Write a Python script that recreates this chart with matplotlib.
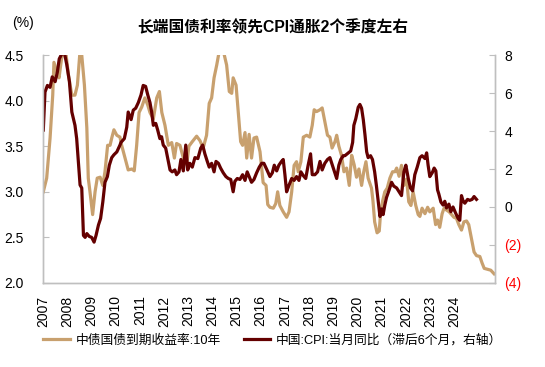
import matplotlib
matplotlib.use('Agg')
import matplotlib.pyplot as plt
from matplotlib.ticker import FuncFormatter

plt.rcParams['font.family'] = ['Liberation Sans', 'Noto Sans CJK SC', 'DejaVu Sans']

# 10Y China government bond yield (%), left axis; x in decimal years
yield_t = [2007.01, 2007.15, 2007.29, 2007.40, 2007.45, 2007.57, 2007.66, 2007.77, 2007.91, 2008.05,
           2008.19, 2008.32, 2008.42, 2008.53, 2008.60, 2008.71, 2008.81, 2008.87, 2008.94, 2009.05,
           2009.15, 2009.24, 2009.36, 2009.47, 2009.56, 2009.67, 2009.77, 2009.84, 2009.93, 2010.05,
           2010.18, 2010.25, 2010.39, 2010.52, 2010.67, 2010.77, 2010.87, 2010.97, 2011.08, 2011.21,
           2011.33, 2011.42, 2011.56, 2011.70, 2011.81, 2011.91, 2012.04, 2012.18, 2012.32, 2012.43,
           2012.52, 2012.66, 2012.80, 2012.94, 2013.03, 2013.17, 2013.35, 2013.49, 2013.62, 2013.76,
           2013.87, 2013.97, 2014.07, 2014.18, 2014.29, 2014.45, 2014.59, 2014.70, 2014.80, 2014.86,
           2014.98, 2015.07, 2015.17, 2015.25, 2015.35, 2015.42, 2015.52, 2015.62, 2015.72, 2015.83,
           2015.97, 2016.10, 2016.22, 2016.29, 2016.38, 2016.52, 2016.62, 2016.70, 2016.79, 2016.93,
           2017.07, 2017.17, 2017.28, 2017.38, 2017.48, 2017.55, 2017.66, 2017.76, 2017.90, 2018.03,
           2018.13, 2018.21, 2018.31, 2018.45, 2018.54, 2018.65, 2018.76, 2018.86, 2018.95, 2019.07,
           2019.14, 2019.23, 2019.34, 2019.44, 2019.55, 2019.66, 2019.76, 2019.86, 2019.96, 2020.06,
           2020.17, 2020.26, 2020.35, 2020.44, 2020.58, 2020.64, 2020.71, 2020.81, 2020.90, 2020.95,
           2021.04, 2021.13, 2021.23, 2021.34, 2021.45, 2021.55, 2021.62, 2021.72, 2021.82, 2021.92,
           2022.03, 2022.12, 2022.21, 2022.30, 2022.41, 2022.51, 2022.58, 2022.67, 2022.79, 2022.90,
           2022.99, 2023.13, 2023.23, 2023.31, 2023.40, 2023.50, 2023.58, 2023.68, 2023.79, 2023.89,
           2023.99, 2024.09, 2024.19, 2024.30, 2024.40, 2024.51, 2024.60, 2024.71, 2024.82, 2024.92,
           2025.06, 2025.15, 2025.24, 2025.38, 2025.51, 2025.65]
yield_v = [3.00, 3.15, 3.59, 4.06, 4.42, 4.31, 4.25, 4.47, 4.60, 4.28,
           4.06, 4.06, 4.17, 4.55, 4.50, 4.17, 3.70, 3.15, 3.00, 2.75,
           3.00, 3.15, 3.16, 3.07, 3.22, 3.51, 3.51, 3.59, 3.68, 3.62,
           3.60, 3.51, 3.37, 3.24, 3.25, 3.23, 3.51, 3.87, 3.93, 4.03,
           3.95, 3.87, 3.80, 4.03, 4.10, 3.87, 3.73, 3.51, 3.54, 3.37,
           3.53, 3.51, 3.37, 3.30, 3.50, 3.55, 3.61, 3.56, 3.48, 3.62,
           3.97, 4.03, 4.25, 4.39, 4.55, 4.55, 4.39, 4.10, 4.08, 4.25,
           4.17, 3.87, 3.55, 3.51, 3.65, 3.37, 3.63, 3.37, 3.59, 3.60,
           3.44, 3.10, 3.07, 2.86, 2.83, 2.82, 2.87, 3.00, 2.85, 2.78,
           2.72, 2.78, 3.00, 3.29, 3.33, 3.22, 3.33, 3.60, 3.62, 3.60,
           3.73, 3.90, 3.88, 3.90, 3.92, 3.77, 3.62, 3.60, 3.48, 3.55,
           3.62, 3.50, 3.40, 3.22, 3.26, 3.07, 3.40, 3.30, 3.16, 3.25,
           3.07, 3.22, 3.33, 3.15, 3.04, 2.90, 2.67, 2.55, 2.57, 2.75,
           2.90, 3.00, 3.04, 3.15, 3.22, 3.22, 3.26, 3.17, 3.29, 3.07,
           3.14, 2.89, 2.85, 3.00, 2.85, 2.75, 2.73, 2.82, 2.76, 2.83,
           2.78, 2.82, 2.64, 2.69, 2.61, 2.76, 2.82, 2.80, 2.78, 2.75,
           2.72, 2.71, 2.64, 2.58, 2.67, 2.68, 2.64, 2.49, 2.34, 2.30,
           2.29, 2.22, 2.16, 2.15, 2.14, 2.10]

# China CPI YoY (%), lagged 6 months, right axis
cpi_t = [2007.01, 2007.08, 2007.18, 2007.29, 2007.38, 2007.50, 2007.59, 2007.67, 2007.79, 2007.87,
         2007.98, 2008.09, 2008.19, 2008.32, 2008.39, 2008.46, 2008.53, 2008.60, 2008.67, 2008.74,
         2008.81, 2008.91, 2009.01, 2009.11, 2009.19, 2009.29, 2009.38, 2009.47, 2009.56, 2009.66,
         2009.74, 2009.84, 2009.93, 2010.05, 2010.18, 2010.22, 2010.36, 2010.46, 2010.52, 2010.64,
         2010.73, 2010.83, 2010.94, 2011.05, 2011.14, 2011.24, 2011.33, 2011.42, 2011.49, 2011.56,
         2011.66, 2011.74, 2011.83, 2011.90, 2011.97, 2012.07, 2012.15, 2012.25, 2012.34, 2012.45,
         2012.52, 2012.62, 2012.70, 2012.80, 2012.90, 2012.98, 2013.07, 2013.17, 2013.28, 2013.40,
         2013.52, 2013.60, 2013.69, 2013.79, 2013.87, 2013.97, 2014.07, 2014.15, 2014.25, 2014.34,
         2014.45, 2014.56, 2014.66, 2014.76, 2014.86, 2014.93, 2015.03, 2015.14, 2015.25, 2015.35,
         2015.44, 2015.52, 2015.62, 2015.72, 2015.83, 2015.94, 2016.04, 2016.13, 2016.24, 2016.38,
         2016.48, 2016.56, 2016.66, 2016.75, 2016.86, 2016.93, 2017.00, 2017.07, 2017.17, 2017.28,
         2017.38, 2017.48, 2017.58, 2017.66, 2017.76, 2017.86, 2017.96, 2018.06, 2018.13, 2018.24,
         2018.35, 2018.45, 2018.54, 2018.65, 2018.76, 2018.86, 2018.95, 2019.04, 2019.14, 2019.23,
         2019.31, 2019.41, 2019.48, 2019.62, 2019.72, 2019.80, 2019.85, 2019.93, 2020.03, 2020.10,
         2020.17, 2020.24, 2020.31, 2020.38, 2020.44, 2020.54, 2020.62, 2020.71, 2020.78, 2020.86,
         2020.93, 2021.00, 2021.06, 2021.13, 2021.20, 2021.31, 2021.41, 2021.50, 2021.62, 2021.72,
         2021.82, 2021.92, 2022.00, 2022.10, 2022.19, 2022.28, 2022.37, 2022.47, 2022.58, 2022.67,
         2022.79, 2022.86, 2022.92, 2022.99, 2023.09, 2023.17, 2023.24, 2023.31, 2023.36, 2023.45,
         2023.54, 2023.61, 2023.68, 2023.78, 2023.86, 2023.95, 2024.05, 2024.16, 2024.23, 2024.30,
         2024.37, 2024.44, 2024.55, 2024.64, 2024.74, 2024.82, 2024.92]
cpi_v = [4.05, 6.05, 6.40, 6.30, 6.85, 6.60, 7.10, 7.80, 8.10, 8.20,
         7.50, 6.60, 5.00, 4.30, 3.60, 2.40, 1.16, 1.00, -1.50, -1.60,
         -1.40, -1.55, -1.60, -1.85, -1.50, -0.95, -0.60, 0.26, 1.30, 1.60,
         2.20, 2.60, 2.75, 2.90, 3.26, 3.40, 3.60, 4.20, 5.00, 4.60,
         5.10, 5.20, 5.50, 5.90, 6.40, 6.35, 5.90, 5.50, 5.00, 4.30,
         4.40, 4.05, 3.60, 3.70, 3.26, 3.10, 2.60, 1.95, 1.85, 1.95,
         1.70, 1.85, 2.50, 1.90, 3.26, 1.95, 2.30, 2.10, 2.60, 2.55,
         3.10, 3.26, 2.80, 2.40, 2.10, 2.30, 1.85, 2.40, 2.30, 2.05,
         1.80, 1.60, 1.50, 1.45, 0.80, 1.35, 1.50, 1.45, 1.70, 1.40,
         1.85, 1.60, 1.30, 1.45, 1.80, 2.10, 2.30, 2.30, 2.00, 1.60,
         1.80, 2.20, 1.90, 2.20, 2.40, 2.50, 1.70, 0.80, 1.15, 1.50,
         1.40, 1.60, 1.40, 1.85, 1.65, 1.50, 2.20, 2.80, 1.70, 1.70,
         1.85, 2.40, 1.95, 2.30, 2.50, 2.60, 2.25, 1.90, 1.50, 2.20,
         2.50, 2.70, 2.70, 2.85, 2.95, 3.40, 4.30, 4.65, 5.25, 5.40,
         5.20, 4.60, 3.80, 2.90, 2.60, 2.70, 2.50, 1.85, 1.15, 0.26,
         -0.50, -0.10, -0.40, 0.10, 0.50, 0.90, 1.30, 1.10, 1.00, 0.80,
         0.60, 1.85, 2.20, 1.50, 1.00, 0.85, 1.70, 2.10, 2.60, 2.70,
         2.55, 2.85, 2.20, 1.60, 1.80, 2.05, 1.90, 0.90, 0.70, 0.26,
         0.10, 0.30, -0.05, 0.15, -0.25, 0.00, -0.30, -0.60, -0.70, 0.60,
         0.30, 0.20, 0.40, 0.35, 0.40, 0.55, 0.40]

years = list(range(2007, 2025))
tan = '#C8A06E'
dark = '#640000'
grey = '#BFBFBF'

fig = plt.figure(figsize=(5.45, 3.67), dpi=100)
ax = fig.add_axes([0.079, 0.229, 0.829, 0.621])
ax2 = ax.twinx()

l1, = ax.plot(yield_t, yield_v, color=tan, lw=2.3, label='中债国债到期收益率:10年')
l2, = ax2.plot(cpi_t, cpi_v, color=dark, lw=2.3, label='中国:CPI:当月同比（滞后6个月，右轴）')

ax.set_xlim(2007.0, 2025.68)
ax.set_ylim(2.0, 4.5)
ax2.set_ylim(-4, 8)
ax.set_yticks([2.0, 2.5, 3.0, 3.5, 4.0, 4.5])
ax.yaxis.set_major_formatter(FuncFormatter(lambda v, p: f'{v:.1f}'))
ax2.set_yticks([-4, -2, 0, 2, 4, 6, 8])
ax2.yaxis.set_major_formatter(FuncFormatter(lambda v, p: f'({abs(int(v))})' if v < 0 else f'{int(v)}'))
ax.set_xticks(years)
ax.set_xticklabels([str(y) for y in years], rotation=90)

for a in (ax, ax2):
    a.spines['top'].set_visible(False)
    for s in ('left', 'right', 'bottom'):
        a.spines[s].set_color(grey)
        a.spines[s].set_linewidth(1.0)
ax.tick_params(axis='y', direction='in', length=4, color=grey, labelsize=10, pad=14)
ax.tick_params(axis='x', length=0, labelsize=10, pad=9)
ax2.tick_params(axis='y', direction='in', length=4, color=grey, labelsize=10, pad=7)
for lab in ax2.get_yticklabels():
    if lab.get_text().startswith('('):
        lab.set_color('red')

fig.text(0.5, 0.926, '长端国债利率领先CPI通胀2个季度左右', ha='center', va='center',
         fontsize=11.3, fontweight='bold')
fig.text(0.022, 0.937, '(%)', ha='left', va='center', fontsize=10)

fig.legend(handles=[l1, l2], loc='center', bbox_to_anchor=(0.5, 0.072), ncol=2,
           frameon=False, fontsize=9.2, handlelength=2.1, columnspacing=1.8,
           handletextpad=0.4)

fig.savefig('out.png', dpi=100)
